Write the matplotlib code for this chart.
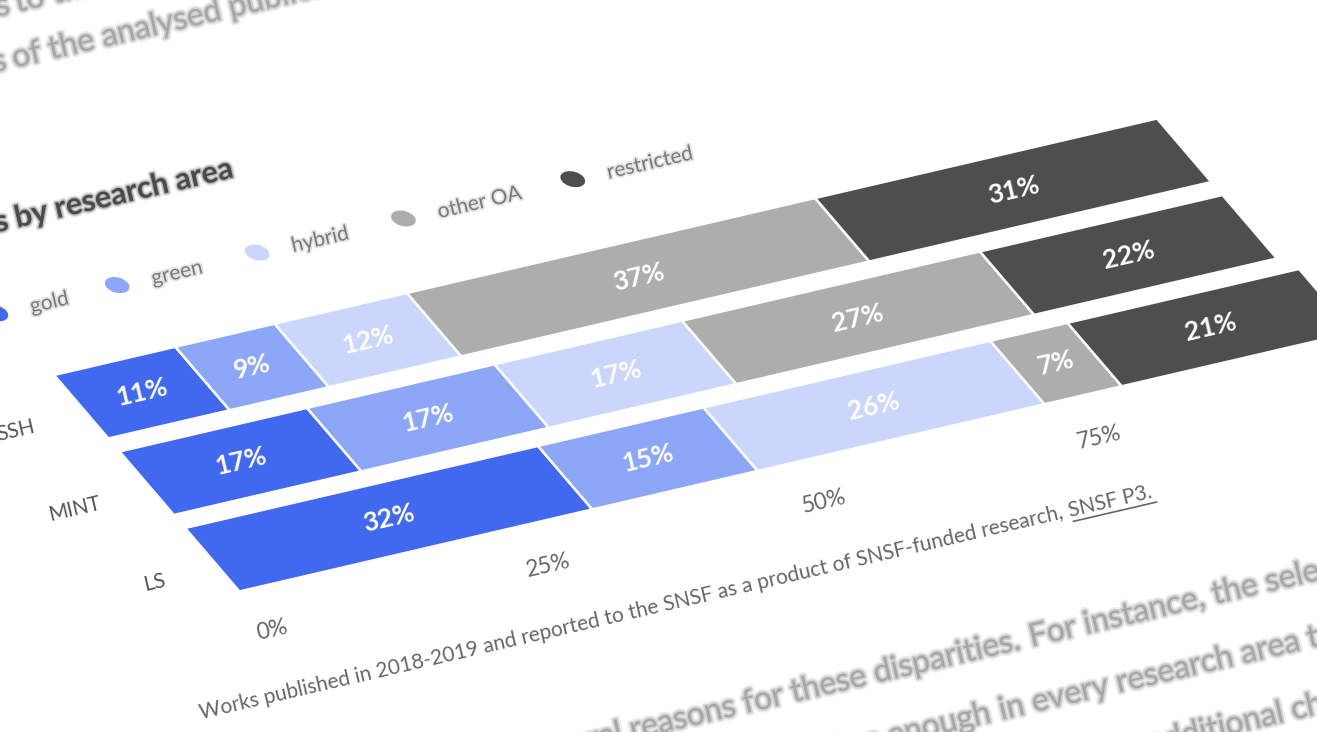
import matplotlib
matplotlib.use("Agg")
import matplotlib.pyplot as plt
import matplotlib.transforms as mtransforms
import matplotlib.patheffects as pe
from matplotlib.patches import Ellipse
import numpy as np

# ---------------- data ----------------
categories = ["SSH", "MINT", "LS"]
series = ["gold", "green", "hybrid", "other OA", "restricted"]
gold = [11, 17, 32]
green = [9, 17, 15]
hybrid = [12, 17, 26]
other_oa = [37, 27, 7]
restricted = [31, 22, 21]
series_values = [gold, green, hybrid, other_oa, restricted]
colors = ["#4169F0", "#8CA6F8", "#CAD6FB", "#ADADAD", "#4E4E4E"]
ticks = [0, 25, 50, 75, 100]
tick_labels = ["0%", "25%", "50%", "75%", "100%"]
title = "Open access status of publications by research area"
footnote_main = "Works published in 2018-2019 and reported to the SNSF as a product of SNSF-funded research, "
footnote_link = "SNSF P3"

plt.rcParams["font.family"] = ["Lato", "DejaVu Sans"]

W, H = 1317, 732
fig = plt.figure(figsize=(W / 100, H / 100), dpi=100)
fig.patch.set_facecolor("white")
ax = fig.add_axes([0, 0, 1, 1])
ax.set_xlim(0, W)
ax.set_ylim(H, 0)
ax.set_autoscale_on(False)
ax.axis("off")
renderer = fig.canvas.get_renderer()

# chart plane (u = percent, w = row units) -> tilted page view
EU = np.array([11.03, -2.565])
plane = mtransforms.Affine2D(np.array([[EU[0], 65.5, 54.0],
                                       [EU[1], 76.5, 375.0],
                                       [0.0, 0.0, 1.0]]))
T = plane + ax.transData
ANG = np.degrees(np.arctan2(-EU[1], EU[0]))
U_PX = np.hypot(*EU)          # pixels per percent along the bar direction
BAR_H = 0.83


def text_len_u(s, **kw):
    t = ax.text(0, 0, s, **kw)
    wpx = t.get_window_extent(renderer).width
    t.remove()
    return wpx / U_PX


# ---------------- bars ----------------
rows = np.arange(len(categories))
left = np.zeros(len(categories))
for vals, col in zip(series_values, colors):
    vals = np.array(vals, dtype=float)
    ax.barh(rows, vals, left=left, height=BAR_H, align="edge", color=col,
            edgecolor="white", linewidth=1.8, transform=T)
    for r, (l, v) in enumerate(zip(left, vals)):
        ax.text(l + v / 2, r + BAR_H / 2, f"{int(v)}%", transform=T,
                rotation=ANG, rotation_mode="anchor", ha="center", va="center",
                color="white", fontsize=19, fontweight="bold")
    left = left + vals
ax.set_xlim(0, W)
ax.set_ylim(H, 0)

# row labels
for r, cat in enumerate(categories):
    ax.text(-4.8, r + BAR_H / 2 + 0.1, cat, transform=T, rotation=ANG,
            rotation_mode="anchor", ha="right", va="center",
            color="#555555", fontsize=15)

# tick labels
for t, lab in zip(ticks, tick_labels):
    ax.text(t, 3.33, lab, transform=T, rotation=ANG, rotation_mode="anchor",
            ha="center", va="center", color="#666666", fontsize=16.5)

# legend
legend_u = [-0.4, 10.6, 23.3, 36.55, 51.9]
soft = [pe.withStroke(linewidth=2.5, foreground="#e2e2e2")]
for u, name, col in zip(legend_u, series, colors):
    e = Ellipse((u, -0.82), 1.9, 0.2, facecolor=col, edgecolor="none",
                transform=T)
    ax.add_patch(e)
    ax.text(u + 3.0, -0.80, name, transform=T, rotation=ANG,
            rotation_mode="anchor", ha="left", va="center",
            color="#7a7a7a", fontsize=15, path_effects=soft)

# title
ax.text(26.8, -1.8, title, transform=T, rotation=ANG, rotation_mode="anchor",
        ha="right", va="center", color="#4a4a4a", fontsize=22,
        fontweight="bold",
        path_effects=[pe.withStroke(linewidth=4, foreground="#e6e6e6"),
                      pe.withStroke(linewidth=2, foreground="#b8b8b8")])

# footnote with underlined link
FN_U, FN_W, FN_FS = -11.1, 4.12, 15
fn_kw = dict(transform=T, rotation=ANG, rotation_mode="anchor", ha="left",
             va="baseline", color="#666666", fontsize=FN_FS)
ax.text(FN_U, FN_W, footnote_main, **fn_kw)
u_link = FN_U + text_len_u(footnote_main, fontsize=FN_FS)
ax.text(u_link, FN_W, footnote_link + ".", **fn_kw)
link_len = text_len_u(footnote_link + ".", fontsize=FN_FS)
ax.plot([u_link, u_link + link_len], [FN_W + 0.06, FN_W + 0.06], color="#666666",
        lw=1.2, transform=T)

# surrounding page text (out of focus)
blur = [pe.withStroke(linewidth=5, foreground="#eeeeee"),
        pe.withStroke(linewidth=2.5, foreground="#cfcfcf")]
body_kw = dict(transform=T, rotation=ANG, rotation_mode="anchor",
               va="baseline", color="#a6a6a6", fontsize=23, path_effects=blur)
ax.text(20.3, -4.05, "this open access share corresponds", ha="right", **body_kw)
ax.text(20.7, -4.05, "to the publication output", ha="left", **body_kw)
ax.text(16.4, -3.45, "The open access proportions", ha="right", **body_kw)
ax.text(16.9, -3.45, "of the analysed publications differ", ha="left", **body_kw)
ax.text(55.6, 5.44, "There are several reasons for these disparities.", ha="right", **body_kw)
ax.text(56.3, 5.44, "For instance, the selection of journals", ha="left", **body_kw)
ax.text(48.6, 6.16, "not every field offers enough", ha="right", **body_kw)
ax.text(49.3, 6.16, "in every research area to", ha="left", **body_kw)
ax.text(58.5, 6.9, "additional checks", ha="left", **body_kw)

fig.savefig("out.png", dpi=100, facecolor="white")
